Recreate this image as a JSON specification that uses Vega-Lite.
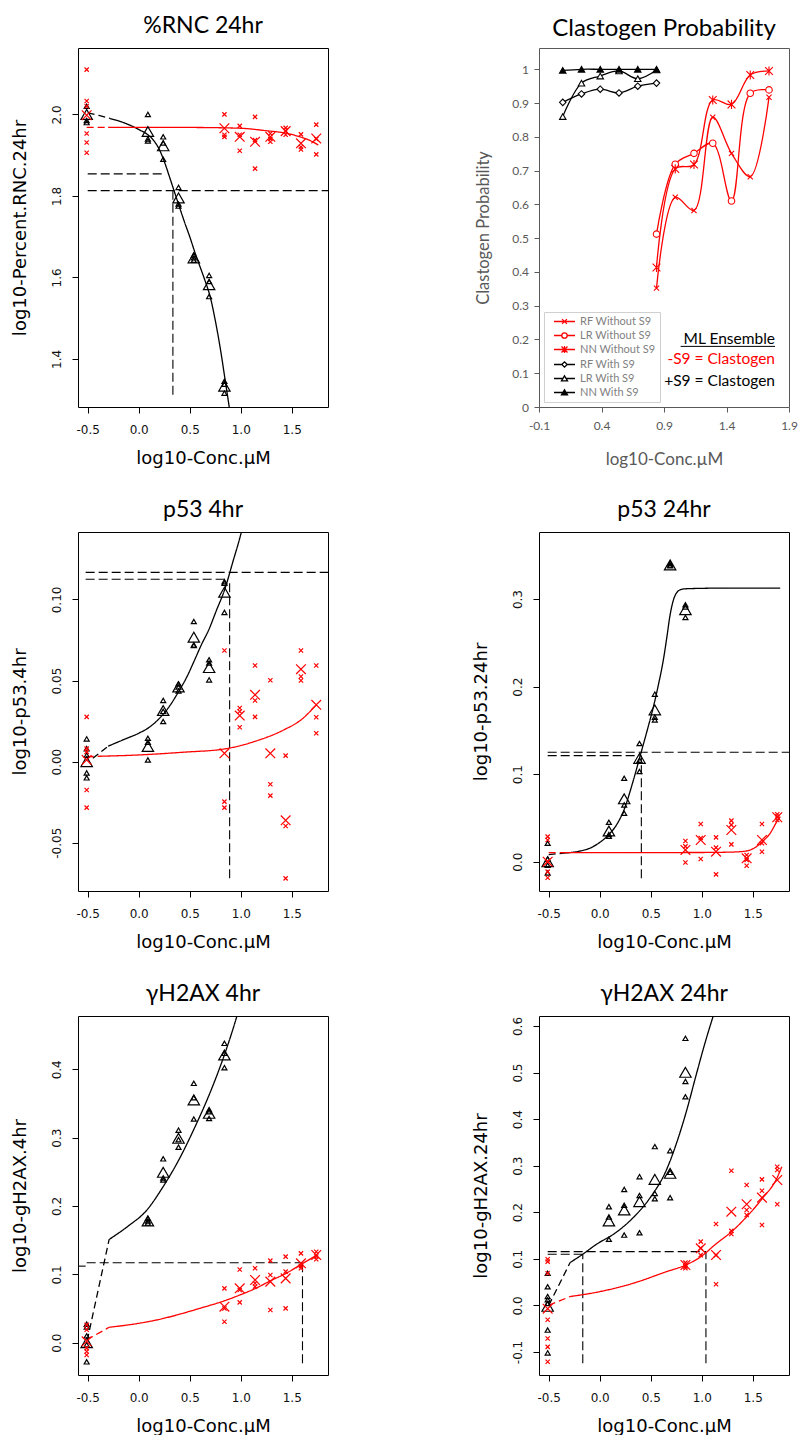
{
"$schema": "https://vega.github.io/schema/vega-lite/v6.json",
"padding": {"left": 10, "top": 14, "right": 5, "bottom": 2},
"config": {
 "view": {"stroke": "#000", "strokeWidth": 1},
 "axis": {"domain": false, "grid": false, "tickColor": "#000", "tickSize": 6, "labelFont": "DejaVu Sans", "labelFontSize": 12, "labelColor": "#111", "titleFont": "DejaVu Sans", "titleFontSize": 18, "titleFontWeight": "normal", "titleColor": "#000", "labelFlush": false, "labelOverlap": false, "labelBound": false},
 "axisX": {"labelBaseline": "alphabetic", "labelPadding": 20, "titleY": 56, "titleBaseline": "alphabetic"},
 "axisY": {"labelAngle": -90, "labelAlign": "center", "labelBaseline": "alphabetic", "labelPadding": 12, "titleX": -53, "titleBaseline": "alphabetic"},
 "title": {"font": "Lato", "fontSize": 23, "fontWeight": "normal", "color": "#000", "anchor": "middle", "baseline": "alphabetic", "offset": 10}
},
"datasets": {
 "rnc": [
  {"k":"rep","g":"S9","x":-0.51,"y":2.02},{"k":"rep","g":"S9","x":-0.51,"y":1.985},{"k":"rep","g":"S9","x":-0.51,"y":1.98},
  {"k":"rep","g":"S9","x":0.09,"y":2.0},{"k":"rep","g":"S9","x":0.09,"y":1.94},{"k":"rep","g":"S9","x":0.09,"y":1.935},
  {"k":"rep","g":"S9","x":0.24,"y":1.945},{"k":"rep","g":"S9","x":0.24,"y":1.93},{"k":"rep","g":"S9","x":0.24,"y":1.89},
  {"k":"rep","g":"S9","x":0.39,"y":1.821},{"k":"rep","g":"S9","x":0.39,"y":1.78},{"k":"rep","g":"S9","x":0.39,"y":1.775},
  {"k":"rep","g":"S9","x":0.54,"y":1.655},{"k":"rep","g":"S9","x":0.54,"y":1.648},{"k":"rep","g":"S9","x":0.54,"y":1.642},
  {"k":"rep","g":"S9","x":0.69,"y":1.605},{"k":"rep","g":"S9","x":0.69,"y":1.59},{"k":"rep","g":"S9","x":0.69,"y":1.553},
  {"k":"rep","g":"S9","x":0.84,"y":1.345},{"k":"rep","g":"S9","x":0.84,"y":1.338},{"k":"rep","g":"S9","x":0.84,"y":1.316},
  {"k":"mean","g":"S9","x":-0.51,"y":2.0},{"k":"mean","g":"S9","x":0.09,"y":1.958},{"k":"mean","g":"S9","x":0.24,"y":1.923},{"k":"mean","g":"S9","x":0.39,"y":1.795},{"k":"mean","g":"S9","x":0.54,"y":1.648},{"k":"mean","g":"S9","x":0.69,"y":1.582},{"k":"mean","g":"S9","x":0.84,"y":1.333},
  {"k":"rep","g":"noS9","x":-0.51,"y":2.11},{"k":"rep","g":"noS9","x":-0.51,"y":2.033},{"k":"rep","g":"noS9","x":-0.51,"y":2.02},{"k":"rep","g":"noS9","x":-0.51,"y":1.953},{"k":"rep","g":"noS9","x":-0.51,"y":1.931},{"k":"rep","g":"noS9","x":-0.51,"y":1.906},
  {"k":"rep","g":"noS9","x":0.84,"y":2.0},{"k":"rep","g":"noS9","x":0.84,"y":1.95},{"k":"rep","g":"noS9","x":0.84,"y":1.945},
  {"k":"rep","g":"noS9","x":0.99,"y":1.972},{"k":"rep","g":"noS9","x":0.99,"y":1.95},{"k":"rep","g":"noS9","x":0.99,"y":1.911},
  {"k":"rep","g":"noS9","x":1.14,"y":1.994},{"k":"rep","g":"noS9","x":1.14,"y":1.937},{"k":"rep","g":"noS9","x":1.14,"y":1.867},
  {"k":"rep","g":"noS9","x":1.29,"y":1.953},{"k":"rep","g":"noS9","x":1.29,"y":1.94},{"k":"rep","g":"noS9","x":1.29,"y":1.933},
  {"k":"rep","g":"noS9","x":1.44,"y":1.967},{"k":"rep","g":"noS9","x":1.44,"y":1.96},{"k":"rep","g":"noS9","x":1.44,"y":1.95},
  {"k":"rep","g":"noS9","x":1.59,"y":1.951},{"k":"rep","g":"noS9","x":1.59,"y":1.92},{"k":"rep","g":"noS9","x":1.59,"y":1.914},
  {"k":"rep","g":"noS9","x":1.74,"y":1.975},{"k":"rep","g":"noS9","x":1.74,"y":1.94},{"k":"rep","g":"noS9","x":1.74,"y":1.902},
  {"k":"mean","g":"noS9","x":-0.51,"y":1.998},{"k":"mean","g":"noS9","x":0.84,"y":1.966},{"k":"mean","g":"noS9","x":0.99,"y":1.945},{"k":"mean","g":"noS9","x":1.14,"y":1.933},{"k":"mean","g":"noS9","x":1.29,"y":1.945},{"k":"mean","g":"noS9","x":1.44,"y":1.959},{"k":"mean","g":"noS9","x":1.59,"y":1.929},{"k":"mean","g":"noS9","x":1.74,"y":1.941},
  {"k":"curve","g":"S9","ls":"extrap","seg":"a","x":-0.5,"y":2.004},{"k":"curve","g":"S9","ls":"extrap","seg":"a","x":-0.38,"y":1.997},{"k":"curve","g":"S9","ls":"extrap","seg":"a","x":-0.28,"y":1.99},
  {"k":"curve","g":"S9","ls":"fit","seg":"b","x":-0.28,"y":1.99},{"k":"curve","g":"S9","ls":"fit","seg":"b","x":-0.15,"y":1.98},{"k":"curve","g":"S9","ls":"fit","seg":"b","x":0.0,"y":1.963},{"k":"curve","g":"S9","ls":"fit","seg":"b","x":0.1,"y":1.948},{"k":"curve","g":"S9","ls":"fit","seg":"b","x":0.15,"y":1.935},{"k":"curve","g":"S9","ls":"fit","seg":"b","x":0.2,"y":1.915},{"k":"curve","g":"S9","ls":"fit","seg":"b","x":0.25,"y":1.885},{"k":"curve","g":"S9","ls":"fit","seg":"b","x":0.3,"y":1.848},{"k":"curve","g":"S9","ls":"fit","seg":"b","x":0.35,"y":1.81},{"k":"curve","g":"S9","ls":"fit","seg":"b","x":0.4,"y":1.772},{"k":"curve","g":"S9","ls":"fit","seg":"b","x":0.45,"y":1.735},{"k":"curve","g":"S9","ls":"fit","seg":"b","x":0.5,"y":1.7},{"k":"curve","g":"S9","ls":"fit","seg":"b","x":0.55,"y":1.662},{"k":"curve","g":"S9","ls":"fit","seg":"b","x":0.6,"y":1.627},{"k":"curve","g":"S9","ls":"fit","seg":"b","x":0.65,"y":1.592},{"k":"curve","g":"S9","ls":"fit","seg":"b","x":0.7,"y":1.553},{"k":"curve","g":"S9","ls":"fit","seg":"b","x":0.75,"y":1.495},{"k":"curve","g":"S9","ls":"fit","seg":"b","x":0.8,"y":1.425},{"k":"curve","g":"S9","ls":"fit","seg":"b","x":0.84,"y":1.36},{"k":"curve","g":"S9","ls":"fit","seg":"b","x":0.9,"y":1.26},
  {"k":"curve","g":"noS9","ls":"extrap","seg":"c","x":-0.51,"y":1.968},{"k":"curve","g":"noS9","ls":"extrap","seg":"c","x":-0.3,"y":1.968},
  {"k":"curve","g":"noS9","ls":"fit","seg":"d","x":-0.3,"y":1.968},{"k":"curve","g":"noS9","ls":"fit","seg":"d","x":0.5,"y":1.968},{"k":"curve","g":"noS9","ls":"fit","seg":"d","x":1.0,"y":1.966},{"k":"curve","g":"noS9","ls":"fit","seg":"d","x":1.25,"y":1.96},{"k":"curve","g":"noS9","ls":"fit","seg":"d","x":1.42,"y":1.955},{"k":"curve","g":"noS9","ls":"fit","seg":"d","x":1.58,"y":1.945},{"k":"curve","g":"noS9","ls":"fit","seg":"d","x":1.67,"y":1.937},{"k":"curve","g":"noS9","ls":"fit","seg":"d","x":1.76,"y":1.925},
  {"k":"ref","x":-0.5,"x2":0.26,"y":1.854,"y2":1.854},{"k":"ref","x":-0.5,"x2":1.9,"y":1.813,"y2":1.813},{"k":"ref","x":0.335,"x2":0.335,"y":1.312,"y2":1.813}
 ],
 "p53a": [
  {"k":"rep","g":"S9","x":-0.51,"y":0.014},{"k":"rep","g":"S9","x":-0.51,"y":0.008},{"k":"rep","g":"S9","x":-0.51,"y":0.004},{"k":"rep","g":"S9","x":-0.51,"y":-0.007},{"k":"rep","g":"S9","x":-0.51,"y":-0.01},
  {"k":"rep","g":"S9","x":0.09,"y":0.0144},{"k":"rep","g":"S9","x":0.09,"y":0.012},{"k":"rep","g":"S9","x":0.09,"y":0.001},
  {"k":"rep","g":"S9","x":0.24,"y":0.0377},{"k":"rep","g":"S9","x":0.24,"y":0.031},{"k":"rep","g":"S9","x":0.24,"y":0.0247},
  {"k":"rep","g":"S9","x":0.39,"y":0.048},{"k":"rep","g":"S9","x":0.39,"y":0.046},{"k":"rep","g":"S9","x":0.39,"y":0.0436},
  {"k":"rep","g":"S9","x":0.54,"y":0.0864},{"k":"rep","g":"S9","x":0.54,"y":0.072},{"k":"rep","g":"S9","x":0.54,"y":0.0716},
  {"k":"rep","g":"S9","x":0.69,"y":0.0628},{"k":"rep","g":"S9","x":0.69,"y":0.0608},{"k":"rep","g":"S9","x":0.69,"y":0.0504},
  {"k":"rep","g":"S9","x":0.84,"y":0.111},{"k":"rep","g":"S9","x":0.84,"y":0.11},{"k":"rep","g":"S9","x":0.84,"y":0.092},
  {"k":"mean","g":"S9","x":-0.51,"y":0.0},{"k":"mean","g":"S9","x":0.09,"y":0.0093},{"k":"mean","g":"S9","x":0.24,"y":0.0315},{"k":"mean","g":"S9","x":0.39,"y":0.046},{"k":"mean","g":"S9","x":0.54,"y":0.0767},{"k":"mean","g":"S9","x":0.69,"y":0.058},{"k":"mean","g":"S9","x":0.84,"y":0.1045},
  {"k":"rep","g":"noS9","x":-0.51,"y":0.0276},{"k":"rep","g":"noS9","x":-0.51,"y":0.008},{"k":"rep","g":"noS9","x":-0.51,"y":0.006},{"k":"rep","g":"noS9","x":-0.51,"y":-0.0175},{"k":"rep","g":"noS9","x":-0.51,"y":-0.0284},
  {"k":"rep","g":"noS9","x":0.84,"y":0.0685},{"k":"rep","g":"noS9","x":0.84,"y":-0.0247},{"k":"rep","g":"noS9","x":0.84,"y":-0.0284},
  {"k":"rep","g":"noS9","x":0.99,"y":0.0331},{"k":"rep","g":"noS9","x":0.99,"y":0.0309},{"k":"rep","g":"noS9","x":0.99,"y":0.0212},
  {"k":"rep","g":"noS9","x":1.14,"y":0.0593},{"k":"rep","g":"noS9","x":1.14,"y":0.0377},{"k":"rep","g":"noS9","x":1.14,"y":0.0276},
  {"k":"rep","g":"noS9","x":1.29,"y":0.0502},{"k":"rep","g":"noS9","x":1.29,"y":-0.014},{"k":"rep","g":"noS9","x":1.29,"y":-0.021},
  {"k":"rep","g":"noS9","x":1.44,"y":0.0037},{"k":"rep","g":"noS9","x":1.44,"y":-0.0397},{"k":"rep","g":"noS9","x":1.44,"y":-0.072},
  {"k":"rep","g":"noS9","x":1.59,"y":0.0685},{"k":"rep","g":"noS9","x":1.59,"y":0.0525},{"k":"rep","g":"noS9","x":1.59,"y":0.05},
  {"k":"rep","g":"noS9","x":1.74,"y":0.0593},{"k":"rep","g":"noS9","x":1.74,"y":0.0274},{"k":"rep","g":"noS9","x":1.74,"y":0.0175},
  {"k":"mean","g":"noS9","x":-0.51,"y":0.001},{"k":"mean","g":"noS9","x":0.84,"y":0.0051},{"k":"mean","g":"noS9","x":0.99,"y":0.0284},{"k":"mean","g":"noS9","x":1.14,"y":0.0412},{"k":"mean","g":"noS9","x":1.29,"y":0.0051},{"k":"mean","g":"noS9","x":1.44,"y":-0.0362},{"k":"mean","g":"noS9","x":1.59,"y":0.057},{"k":"mean","g":"noS9","x":1.74,"y":0.035},
  {"k":"curve","g":"S9","ls":"extrap","seg":"a","x":-0.45,"y":0.002},{"k":"curve","g":"S9","ls":"extrap","seg":"a","x":-0.3,"y":0.0095},
  {"k":"curve","g":"S9","ls":"fit","seg":"b","x":-0.3,"y":0.0095},{"k":"curve","g":"S9","ls":"fit","seg":"b","x":-0.15,"y":0.0135},{"k":"curve","g":"S9","ls":"fit","seg":"b","x":0.0,"y":0.0175},{"k":"curve","g":"S9","ls":"fit","seg":"b","x":0.1,"y":0.021},{"k":"curve","g":"S9","ls":"fit","seg":"b","x":0.2,"y":0.0265},{"k":"curve","g":"S9","ls":"fit","seg":"b","x":0.3,"y":0.034},{"k":"curve","g":"S9","ls":"fit","seg":"b","x":0.394,"y":0.0435},{"k":"curve","g":"S9","ls":"fit","seg":"b","x":0.47,"y":0.052},{"k":"curve","g":"S9","ls":"fit","seg":"b","x":0.541,"y":0.0617},{"k":"curve","g":"S9","ls":"fit","seg":"b","x":0.61,"y":0.0715},{"k":"curve","g":"S9","ls":"fit","seg":"b","x":0.688,"y":0.0815},{"k":"curve","g":"S9","ls":"fit","seg":"b","x":0.76,"y":0.093},{"k":"curve","g":"S9","ls":"fit","seg":"b","x":0.842,"y":0.106},{"k":"curve","g":"S9","ls":"fit","seg":"b","x":0.924,"y":0.1235},{"k":"curve","g":"S9","ls":"fit","seg":"b","x":1.006,"y":0.1416},{"k":"curve","g":"S9","ls":"fit","seg":"b","x":1.03,"y":0.148},
  {"k":"curve","g":"noS9","ls":"extrap","seg":"c","x":-0.51,"y":0.003},{"k":"curve","g":"noS9","ls":"extrap","seg":"c","x":-0.38,"y":0.0033},
  {"k":"curve","g":"noS9","ls":"fit","seg":"d","x":-0.38,"y":0.0033},{"k":"curve","g":"noS9","ls":"fit","seg":"d","x":0.0,"y":0.0041},{"k":"curve","g":"noS9","ls":"fit","seg":"d","x":0.44,"y":0.0058},{"k":"curve","g":"noS9","ls":"fit","seg":"d","x":0.84,"y":0.0078},{"k":"curve","g":"noS9","ls":"fit","seg":"d","x":1.13,"y":0.0123},{"k":"curve","g":"noS9","ls":"fit","seg":"d","x":1.42,"y":0.0195},{"k":"curve","g":"noS9","ls":"fit","seg":"d","x":1.59,"y":0.0257},{"k":"curve","g":"noS9","ls":"fit","seg":"d","x":1.74,"y":0.035},
  {"k":"ref","x":-0.52,"x2":1.9,"y":0.1167,"y2":0.1167},{"k":"ref","x":-0.52,"x2":0.868,"y":0.1125,"y2":0.1125},{"k":"ref","x":0.891,"x2":0.891,"y":-0.072,"y2":0.1125}
 ],
 "p53b": [
  {"k":"rep","g":"S9","x":-0.51,"y":0.021},{"k":"rep","g":"S9","x":-0.51,"y":0.003},{"k":"rep","g":"S9","x":-0.51,"y":-0.004},{"k":"rep","g":"S9","x":-0.51,"y":-0.013},
  {"k":"rep","g":"S9","x":0.09,"y":0.045},{"k":"rep","g":"S9","x":0.09,"y":0.031},{"k":"rep","g":"S9","x":0.09,"y":0.029},
  {"k":"rep","g":"S9","x":0.24,"y":0.0953},{"k":"rep","g":"S9","x":0.24,"y":0.0648},{"k":"rep","g":"S9","x":0.24,"y":0.0553},
  {"k":"rep","g":"S9","x":0.39,"y":0.135},{"k":"rep","g":"S9","x":0.39,"y":0.116},{"k":"rep","g":"S9","x":0.39,"y":0.103},
  {"k":"rep","g":"S9","x":0.54,"y":0.1914},{"k":"rep","g":"S9","x":0.54,"y":0.165},{"k":"rep","g":"S9","x":0.54,"y":0.162},
  {"k":"rep","g":"S9","x":0.69,"y":0.341},{"k":"rep","g":"S9","x":0.69,"y":0.339},{"k":"rep","g":"S9","x":0.69,"y":0.338},
  {"k":"rep","g":"S9","x":0.84,"y":0.2935},{"k":"rep","g":"S9","x":0.84,"y":0.291},{"k":"rep","g":"S9","x":0.84,"y":0.279},
  {"k":"mean","g":"S9","x":-0.51,"y":0.0},{"k":"mean","g":"S9","x":0.09,"y":0.035},{"k":"mean","g":"S9","x":0.24,"y":0.0718},{"k":"mean","g":"S9","x":0.39,"y":0.118},{"k":"mean","g":"S9","x":0.54,"y":0.1734},{"k":"mean","g":"S9","x":0.69,"y":0.339},{"k":"mean","g":"S9","x":0.84,"y":0.2878},
  {"k":"rep","g":"noS9","x":-0.51,"y":0.0286},{"k":"rep","g":"noS9","x":-0.51,"y":0.0248},{"k":"rep","g":"noS9","x":-0.51,"y":0.0},{"k":"rep","g":"noS9","x":-0.51,"y":-0.0114},{"k":"rep","g":"noS9","x":-0.51,"y":-0.0183},
  {"k":"rep","g":"noS9","x":0.84,"y":0.0236},{"k":"rep","g":"noS9","x":0.84,"y":0.0175},{"k":"rep","g":"noS9","x":0.84,"y":-0.001},
  {"k":"rep","g":"noS9","x":0.99,"y":0.043},{"k":"rep","g":"noS9","x":0.99,"y":0.027},{"k":"rep","g":"noS9","x":0.99,"y":0.003},
  {"k":"rep","g":"noS9","x":1.14,"y":0.0278},{"k":"rep","g":"noS9","x":1.14,"y":0.016},{"k":"rep","g":"noS9","x":1.14,"y":-0.0145},
  {"k":"rep","g":"noS9","x":1.29,"y":0.0469},{"k":"rep","g":"noS9","x":1.29,"y":0.042},{"k":"rep","g":"noS9","x":1.29,"y":0.0198},
  {"k":"rep","g":"noS9","x":1.44,"y":0.0076},{"k":"rep","g":"noS9","x":1.44,"y":0.002},{"k":"rep","g":"noS9","x":1.44,"y":-0.0046},
  {"k":"rep","g":"noS9","x":1.59,"y":0.0431},{"k":"rep","g":"noS9","x":1.59,"y":0.021},{"k":"rep","g":"noS9","x":1.59,"y":0.0114},
  {"k":"rep","g":"noS9","x":1.74,"y":0.0541},{"k":"rep","g":"noS9","x":1.74,"y":0.0515},{"k":"rep","g":"noS9","x":1.74,"y":0.0476},
  {"k":"mean","g":"noS9","x":-0.51,"y":0.0},{"k":"mean","g":"noS9","x":0.84,"y":0.0134},{"k":"mean","g":"noS9","x":0.99,"y":0.0248},{"k":"mean","g":"noS9","x":1.14,"y":0.0114},{"k":"mean","g":"noS9","x":1.29,"y":0.0362},{"k":"mean","g":"noS9","x":1.44,"y":0.0038},{"k":"mean","g":"noS9","x":1.59,"y":0.0248},{"k":"mean","g":"noS9","x":1.74,"y":0.0507},
  {"k":"curve","g":"S9","ls":"extrap","seg":"a","x":-0.5,"y":0.008},{"k":"curve","g":"S9","ls":"extrap","seg":"a","x":-0.33,"y":0.01},
  {"k":"curve","g":"S9","ls":"fit","seg":"b","x":-0.33,"y":0.01},{"k":"curve","g":"S9","ls":"fit","seg":"b","x":-0.2,"y":0.012},{"k":"curve","g":"S9","ls":"fit","seg":"b","x":-0.067,"y":0.017},{"k":"curve","g":"S9","ls":"fit","seg":"b","x":0.0,"y":0.022},{"k":"curve","g":"S9","ls":"fit","seg":"b","x":0.09,"y":0.031},{"k":"curve","g":"S9","ls":"fit","seg":"b","x":0.17,"y":0.043},{"k":"curve","g":"S9","ls":"fit","seg":"b","x":0.244,"y":0.061},{"k":"curve","g":"S9","ls":"fit","seg":"b","x":0.326,"y":0.0915},{"k":"curve","g":"S9","ls":"fit","seg":"b","x":0.408,"y":0.1258},{"k":"curve","g":"S9","ls":"fit","seg":"b","x":0.47,"y":0.152},{"k":"curve","g":"S9","ls":"fit","seg":"b","x":0.523,"y":0.1754},{"k":"curve","g":"S9","ls":"fit","seg":"b","x":0.575,"y":0.202},{"k":"curve","g":"S9","ls":"fit","seg":"b","x":0.621,"y":0.2287},{"k":"curve","g":"S9","ls":"fit","seg":"b","x":0.66,"y":0.258},{"k":"curve","g":"S9","ls":"fit","seg":"b","x":0.687,"y":0.28},{"k":"curve","g":"S9","ls":"fit","seg":"b","x":0.72,"y":0.298},{"k":"curve","g":"S9","ls":"fit","seg":"b","x":0.752,"y":0.3069},{"k":"curve","g":"S9","ls":"fit","seg":"b","x":0.8,"y":0.311},{"k":"curve","g":"S9","ls":"fit","seg":"b","x":0.851,"y":0.3118},{"k":"curve","g":"S9","ls":"fit","seg":"b","x":1.2,"y":0.3125},{"k":"curve","g":"S9","ls":"fit","seg":"b","x":1.769,"y":0.3126},
  {"k":"curve","g":"noS9","ls":"extrap","seg":"c","x":-0.5,"y":0.0103},{"k":"curve","g":"noS9","ls":"extrap","seg":"c","x":-0.33,"y":0.0103},
  {"k":"curve","g":"noS9","ls":"fit","seg":"d","x":-0.33,"y":0.0103},{"k":"curve","g":"noS9","ls":"fit","seg":"d","x":1.0,"y":0.0105},{"k":"curve","g":"noS9","ls":"fit","seg":"d","x":1.3,"y":0.011},{"k":"curve","g":"noS9","ls":"fit","seg":"d","x":1.44,"y":0.0122},{"k":"curve","g":"noS9","ls":"fit","seg":"d","x":1.52,"y":0.016},{"k":"curve","g":"noS9","ls":"fit","seg":"d","x":1.595,"y":0.0229},{"k":"curve","g":"noS9","ls":"fit","seg":"d","x":1.67,"y":0.0324},{"k":"curve","g":"noS9","ls":"fit","seg":"d","x":1.736,"y":0.0457},{"k":"curve","g":"noS9","ls":"fit","seg":"d","x":1.77,"y":0.0515},
  {"k":"ref","x":-0.51,"x2":1.9,"y":0.125,"y2":0.125},{"k":"ref","x":-0.51,"x2":0.39,"y":0.1212,"y2":0.1212},{"k":"ref","x":0.408,"x2":0.408,"y":-0.019,"y2":0.1212}
 ],
 "gha": [
  {"k":"rep","g":"S9","x":-0.51,"y":0.027},{"k":"rep","g":"S9","x":-0.51,"y":0.023},{"k":"rep","g":"S9","x":-0.51,"y":0.01},{"k":"rep","g":"S9","x":-0.51,"y":-0.003},{"k":"rep","g":"S9","x":-0.51,"y":-0.028},
  {"k":"rep","g":"S9","x":0.09,"y":0.182},{"k":"rep","g":"S9","x":0.09,"y":0.178},{"k":"rep","g":"S9","x":0.09,"y":0.175},
  {"k":"rep","g":"S9","x":0.24,"y":0.269},{"k":"rep","g":"S9","x":0.24,"y":0.241},{"k":"rep","g":"S9","x":0.24,"y":0.238},
  {"k":"rep","g":"S9","x":0.39,"y":0.311},{"k":"rep","g":"S9","x":0.39,"y":0.297},{"k":"rep","g":"S9","x":0.39,"y":0.286},
  {"k":"rep","g":"S9","x":0.54,"y":0.3795},{"k":"rep","g":"S9","x":0.54,"y":0.3585},{"k":"rep","g":"S9","x":0.54,"y":0.3273},
  {"k":"rep","g":"S9","x":0.69,"y":0.341},{"k":"rep","g":"S9","x":0.69,"y":0.338},{"k":"rep","g":"S9","x":0.69,"y":0.328},
  {"k":"rep","g":"S9","x":0.84,"y":0.438},{"k":"rep","g":"S9","x":0.84,"y":0.4234},{"k":"rep","g":"S9","x":0.84,"y":0.4024},
  {"k":"mean","g":"S9","x":-0.51,"y":0.0},{"k":"mean","g":"S9","x":0.09,"y":0.178},{"k":"mean","g":"S9","x":0.24,"y":0.2493},{"k":"mean","g":"S9","x":0.39,"y":0.299},{"k":"mean","g":"S9","x":0.54,"y":0.3551},{"k":"mean","g":"S9","x":0.69,"y":0.3356},{"k":"mean","g":"S9","x":0.84,"y":0.421},
  {"k":"rep","g":"noS9","x":-0.51,"y":0.026},{"k":"rep","g":"noS9","x":-0.51,"y":0.019},{"k":"rep","g":"noS9","x":-0.51,"y":-0.008},{"k":"rep","g":"noS9","x":-0.51,"y":-0.013},{"k":"rep","g":"noS9","x":-0.51,"y":-0.018},
  {"k":"rep","g":"noS9","x":0.84,"y":0.0795},{"k":"rep","g":"noS9","x":0.84,"y":0.05},{"k":"rep","g":"noS9","x":0.84,"y":0.0307},
  {"k":"rep","g":"noS9","x":0.99,"y":0.107},{"k":"rep","g":"noS9","x":0.99,"y":0.077},{"k":"rep","g":"noS9","x":0.99,"y":0.059},
  {"k":"rep","g":"noS9","x":1.14,"y":0.109},{"k":"rep","g":"noS9","x":1.14,"y":0.087},{"k":"rep","g":"noS9","x":1.14,"y":0.082},
  {"k":"rep","g":"noS9","x":1.29,"y":0.12},{"k":"rep","g":"noS9","x":1.29,"y":0.099},{"k":"rep","g":"noS9","x":1.29,"y":0.0478},
  {"k":"rep","g":"noS9","x":1.44,"y":0.1259},{"k":"rep","g":"noS9","x":1.44,"y":0.104},{"k":"rep","g":"noS9","x":1.44,"y":0.0502},
  {"k":"rep","g":"noS9","x":1.59,"y":0.1307},{"k":"rep","g":"noS9","x":1.59,"y":0.112},{"k":"rep","g":"noS9","x":1.59,"y":0.109},
  {"k":"rep","g":"noS9","x":1.74,"y":0.133},{"k":"rep","g":"noS9","x":1.74,"y":0.126},{"k":"rep","g":"noS9","x":1.74,"y":0.122},
  {"k":"mean","g":"noS9","x":-0.51,"y":0.002},{"k":"mean","g":"noS9","x":0.84,"y":0.0527},{"k":"mean","g":"noS9","x":0.99,"y":0.0795},{"k":"mean","g":"noS9","x":1.14,"y":0.0917},{"k":"mean","g":"noS9","x":1.29,"y":0.0893},{"k":"mean","g":"noS9","x":1.44,"y":0.0941},{"k":"mean","g":"noS9","x":1.59,"y":0.1161},{"k":"mean","g":"noS9","x":1.74,"y":0.1283},
  {"k":"curve","g":"S9","ls":"extrap","seg":"a","x":-0.505,"y":0.003},{"k":"curve","g":"S9","ls":"extrap","seg":"a","x":-0.29,"y":0.151},
  {"k":"curve","g":"S9","ls":"fit","seg":"b","x":-0.29,"y":0.151},{"k":"curve","g":"S9","ls":"fit","seg":"b","x":-0.1,"y":0.171},{"k":"curve","g":"S9","ls":"fit","seg":"b","x":0.074,"y":0.193},{"k":"curve","g":"S9","ls":"fit","seg":"b","x":0.238,"y":0.228},{"k":"curve","g":"S9","ls":"fit","seg":"b","x":0.395,"y":0.268},{"k":"curve","g":"S9","ls":"fit","seg":"b","x":0.543,"y":0.313},{"k":"curve","g":"S9","ls":"fit","seg":"b","x":0.697,"y":0.365},{"k":"curve","g":"S9","ls":"fit","seg":"b","x":0.844,"y":0.423},{"k":"curve","g":"S9","ls":"fit","seg":"b","x":0.926,"y":0.46},{"k":"curve","g":"S9","ls":"fit","seg":"b","x":1.0,"y":0.497},
  {"k":"curve","g":"noS9","ls":"extrap","seg":"c","x":-0.51,"y":0.004},{"k":"curve","g":"noS9","ls":"extrap","seg":"c","x":-0.29,"y":0.0225},
  {"k":"curve","g":"noS9","ls":"fit","seg":"d","x":-0.29,"y":0.0225},{"k":"curve","g":"noS9","ls":"fit","seg":"d","x":0.0,"y":0.0283},{"k":"curve","g":"noS9","ls":"fit","seg":"d","x":0.185,"y":0.0335},{"k":"curve","g":"noS9","ls":"fit","seg":"d","x":0.336,"y":0.039},{"k":"curve","g":"noS9","ls":"fit","seg":"d","x":0.598,"y":0.0502},{"k":"curve","g":"noS9","ls":"fit","seg":"d","x":0.844,"y":0.0615},{"k":"curve","g":"noS9","ls":"fit","seg":"d","x":0.992,"y":0.0698},{"k":"curve","g":"noS9","ls":"fit","seg":"d","x":1.146,"y":0.0795},{"k":"curve","g":"noS9","ls":"fit","seg":"d","x":1.293,"y":0.0907},{"k":"curve","g":"noS9","ls":"fit","seg":"d","x":1.444,"y":0.1015},{"k":"curve","g":"noS9","ls":"fit","seg":"d","x":1.598,"y":0.1151},{"k":"curve","g":"noS9","ls":"fit","seg":"d","x":1.746,"y":0.1283},
  {"k":"ref","x":-0.51,"x2":1.605,"y":0.117,"y2":0.117},{"k":"ref","x":-0.6,"x2":-0.52,"y":0.112,"y2":0.112},{"k":"ref","x":1.605,"x2":1.605,"y":-0.03,"y2":0.117}
 ],
 "ghb": [
  {"k":"rep","g":"S9","x":-0.51,"y":0.069},{"k":"rep","g":"S9","x":-0.51,"y":0.04},{"k":"rep","g":"S9","x":-0.51,"y":0.019},{"k":"rep","g":"S9","x":-0.51,"y":0.012},{"k":"rep","g":"S9","x":-0.51,"y":0.004},{"k":"rep","g":"S9","x":-0.51,"y":-0.053},{"k":"rep","g":"S9","x":-0.51,"y":-0.102},
  {"k":"rep","g":"S9","x":0.09,"y":0.212},{"k":"rep","g":"S9","x":0.09,"y":0.19},{"k":"rep","g":"S9","x":0.09,"y":0.142},
  {"k":"rep","g":"S9","x":0.24,"y":0.249},{"k":"rep","g":"S9","x":0.24,"y":0.215},{"k":"rep","g":"S9","x":0.24,"y":0.151},
  {"k":"rep","g":"S9","x":0.39,"y":0.2765},{"k":"rep","g":"S9","x":0.39,"y":0.236},{"k":"rep","g":"S9","x":0.39,"y":0.156},
  {"k":"rep","g":"S9","x":0.54,"y":0.341},{"k":"rep","g":"S9","x":0.54,"y":0.2405},{"k":"rep","g":"S9","x":0.54,"y":0.2291},
  {"k":"rep","g":"S9","x":0.69,"y":0.3323},{"k":"rep","g":"S9","x":0.69,"y":0.2857},{"k":"rep","g":"S9","x":0.69,"y":0.2313},
  {"k":"rep","g":"S9","x":0.84,"y":0.5735},{"k":"rep","g":"S9","x":0.84,"y":0.481},{"k":"rep","g":"S9","x":0.84,"y":0.448},
  {"k":"mean","g":"S9","x":-0.51,"y":-0.002},{"k":"mean","g":"S9","x":0.09,"y":0.1813},{"k":"mean","g":"S9","x":0.24,"y":0.205},{"k":"mean","g":"S9","x":0.39,"y":0.2229},{"k":"mean","g":"S9","x":0.54,"y":0.2707},{"k":"mean","g":"S9","x":0.69,"y":0.2836},{"k":"mean","g":"S9","x":0.84,"y":0.5006},
  {"k":"rep","g":"noS9","x":-0.51,"y":0.099},{"k":"rep","g":"noS9","x":-0.51,"y":0.094},{"k":"rep","g":"noS9","x":-0.51,"y":0.069},{"k":"rep","g":"noS9","x":-0.51,"y":-0.031},{"k":"rep","g":"noS9","x":-0.51,"y":-0.071},{"k":"rep","g":"noS9","x":-0.51,"y":-0.089},{"k":"rep","g":"noS9","x":-0.51,"y":-0.121},
  {"k":"rep","g":"noS9","x":0.84,"y":0.0918},{"k":"rep","g":"noS9","x":0.84,"y":0.0832},{"k":"rep","g":"noS9","x":0.84,"y":0.0796},
  {"k":"rep","g":"noS9","x":0.99,"y":0.137},{"k":"rep","g":"noS9","x":0.99,"y":0.123},{"k":"rep","g":"noS9","x":0.99,"y":0.108},
  {"k":"rep","g":"noS9","x":1.14,"y":0.1748},{"k":"rep","g":"noS9","x":1.14,"y":0.108},{"k":"rep","g":"noS9","x":1.14,"y":0.0453},
  {"k":"rep","g":"noS9","x":1.29,"y":0.2892},{"k":"rep","g":"noS9","x":1.29,"y":0.16},{"k":"rep","g":"noS9","x":1.29,"y":0.1533},
  {"k":"rep","g":"noS9","x":1.44,"y":0.2586},{"k":"rep","g":"noS9","x":1.44,"y":0.205},{"k":"rep","g":"noS9","x":1.44,"y":0.194},
  {"k":"rep","g":"noS9","x":1.59,"y":0.2707},{"k":"rep","g":"noS9","x":1.59,"y":0.2463},{"k":"rep","g":"noS9","x":1.59,"y":0.1726},
  {"k":"rep","g":"noS9","x":1.74,"y":0.2979},{"k":"rep","g":"noS9","x":1.74,"y":0.2907},{"k":"rep","g":"noS9","x":1.74,"y":0.2171},
  {"k":"mean","g":"noS9","x":-0.51,"y":-0.007},{"k":"mean","g":"noS9","x":0.84,"y":0.0868},{"k":"mean","g":"noS9","x":0.99,"y":0.1225},{"k":"mean","g":"noS9","x":1.14,"y":0.1083},{"k":"mean","g":"noS9","x":1.29,"y":0.2013},{"k":"mean","g":"noS9","x":1.44,"y":0.2172},{"k":"mean","g":"noS9","x":1.59,"y":0.2314},{"k":"mean","g":"noS9","x":1.74,"y":0.2693},
  {"k":"curve","g":"S9","ls":"extrap","seg":"a","x":-0.5,"y":0.0},{"k":"curve","g":"S9","ls":"extrap","seg":"a","x":-0.29,"y":0.092},
  {"k":"curve","g":"S9","ls":"fit","seg":"b","x":-0.29,"y":0.092},{"k":"curve","g":"S9","ls":"fit","seg":"b","x":-0.166,"y":0.11},{"k":"curve","g":"S9","ls":"fit","seg":"b","x":-0.04,"y":0.13},{"k":"curve","g":"S9","ls":"fit","seg":"b","x":0.162,"y":0.157},{"k":"curve","g":"S9","ls":"fit","seg":"b","x":0.326,"y":0.188},{"k":"curve","g":"S9","ls":"fit","seg":"b","x":0.49,"y":0.23},{"k":"curve","g":"S9","ls":"fit","seg":"b","x":0.654,"y":0.291},{"k":"curve","g":"S9","ls":"fit","seg":"b","x":0.752,"y":0.348},{"k":"curve","g":"S9","ls":"fit","seg":"b","x":0.844,"y":0.4125},{"k":"curve","g":"S9","ls":"fit","seg":"b","x":0.949,"y":0.498},{"k":"curve","g":"S9","ls":"fit","seg":"b","x":1.031,"y":0.563},{"k":"curve","g":"S9","ls":"fit","seg":"b","x":1.113,"y":0.622},
  {"k":"curve","g":"noS9","ls":"extrap","seg":"c","x":-0.5,"y":0.0},{"k":"curve","g":"noS9","ls":"extrap","seg":"c","x":-0.29,"y":0.019},
  {"k":"curve","g":"noS9","ls":"fit","seg":"d","x":-0.29,"y":0.019},{"k":"curve","g":"noS9","ls":"fit","seg":"d","x":0.0,"y":0.0295},{"k":"curve","g":"noS9","ls":"fit","seg":"d","x":0.326,"y":0.0474},{"k":"curve","g":"noS9","ls":"fit","seg":"d","x":0.654,"y":0.0724},{"k":"curve","g":"noS9","ls":"fit","seg":"d","x":0.844,"y":0.0868},{"k":"curve","g":"noS9","ls":"fit","seg":"d","x":0.992,"y":0.1047},{"k":"curve","g":"noS9","ls":"fit","seg":"d","x":1.139,"y":0.132},{"k":"curve","g":"noS9","ls":"fit","seg":"d","x":1.293,"y":0.1584},{"k":"curve","g":"noS9","ls":"fit","seg":"d","x":1.441,"y":0.1906},{"k":"curve","g":"noS9","ls":"fit","seg":"d","x":1.595,"y":0.23},{"k":"curve","g":"noS9","ls":"fit","seg":"d","x":1.736,"y":0.273},{"k":"curve","g":"noS9","ls":"fit","seg":"d","x":1.785,"y":0.298},
  {"k":"ref","x":-0.51,"x2":1.041,"y":0.1154,"y2":0.1154},{"k":"ref","x":-0.51,"x2":-0.166,"y":0.1098,"y2":0.1098},{"k":"ref","x":-0.166,"x2":-0.166,"y":-0.124,"y2":0.1098},{"k":"ref","x":1.041,"x2":1.041,"y":-0.124,"y2":0.1154}
 ],
 "clast": [
  {"series":"RF Without S9","x":0.84,"p":0.352},{"series":"RF Without S9","x":0.99,"p":0.621},{"series":"RF Without S9","x":1.14,"p":0.582},{"series":"RF Without S9","x":1.29,"p":0.858},{"series":"RF Without S9","x":1.44,"p":0.751},{"series":"RF Without S9","x":1.59,"p":0.682},{"series":"RF Without S9","x":1.74,"p":0.917},
  {"series":"LR Without S9","x":0.84,"p":0.512},{"series":"LR Without S9","x":0.99,"p":0.719},{"series":"LR Without S9","x":1.14,"p":0.751},{"series":"LR Without S9","x":1.29,"p":0.781},{"series":"LR Without S9","x":1.44,"p":0.61},{"series":"LR Without S9","x":1.59,"p":0.929},{"series":"LR Without S9","x":1.74,"p":0.939},
  {"series":"NN Without S9","x":0.84,"p":0.413},{"series":"NN Without S9","x":0.99,"p":0.705},{"series":"NN Without S9","x":1.14,"p":0.718},{"series":"NN Without S9","x":1.29,"p":0.909},{"series":"NN Without S9","x":1.44,"p":0.896},{"series":"NN Without S9","x":1.59,"p":0.983},{"series":"NN Without S9","x":1.74,"p":0.995},
  {"series":"RF With S9","x":0.09,"p":0.902},{"series":"RF With S9","x":0.24,"p":0.927},{"series":"RF With S9","x":0.39,"p":0.941},{"series":"RF With S9","x":0.54,"p":0.93},{"series":"RF With S9","x":0.69,"p":0.95},{"series":"RF With S9","x":0.84,"p":0.959},
  {"series":"LR With S9","x":0.09,"p":0.86},{"series":"LR With S9","x":0.24,"p":0.959},{"series":"LR With S9","x":0.39,"p":0.98},{"series":"LR With S9","x":0.54,"p":0.995},{"series":"LR With S9","x":0.69,"p":0.972},{"series":"LR With S9","x":0.84,"p":0.998},
  {"series":"NN With S9","x":0.09,"p":0.997},{"series":"NN With S9","x":0.24,"p":1.0},{"series":"NN With S9","x":0.39,"p":1.0},{"series":"NN With S9","x":0.54,"p":1.0},{"series":"NN With S9","x":0.69,"p":1.0},{"series":"NN With S9","x":0.84,"p":1.0}
 ],
 "notes": [
  {"t":"ML Ensemble","c":"head","x":1.788,"p":0.1864},
  {"t":"-S9 = Clastogen","c":"minus","x":1.788,"p":0.127},
  {"t":"+S9 = Clastogen","c":"plus","x":1.788,"p":0.063}
 ],
 "uline": [{"x":1.033,"x2":1.788,"p":0.1795}]
},
"columns": 2,
"spacing": {"row": 125, "column": 211},
"bounds": "flush",
"concat": [
   {"width": 250, "height": 359, "title": {"text": "%RNC 24hr"}, "data": {"name": "rnc"},
    "encoding": {
     "x": {"field": "x", "type": "quantitative", "scale": {"domain": [-0.595, 1.855], "nice": false, "zero": false}, "axis": {"values": [-0.5,0,0.5,1,1.5], "labelExpr": "(datum.value < 0 ? '-' : '') + format(abs(datum.value), '.1f')", "title": "log10-Conc.µM"}},
     "y": {"field": "y", "type": "quantitative", "scale": {"domain": [1.282, 2.163], "nice": false, "zero": false}, "axis": {"values": [1.4,1.6,1.8,2.0], "labelExpr": "format(datum.value, '.1f')", "title": "log10-Percent.RNC.24hr"}}
    },
    "layer": [
     {"transform": [{"filter": "datum.k == 'ref'"}], "mark": {"type": "rule", "strokeDash": [9,4], "color": "#000", "strokeWidth": 1.1, "clip": true}, "encoding": {"x2": {"field": "x2"}, "y2": {"field": "y2"}}},
     {"transform": [{"filter": "datum.k == 'curve'"}], "mark": {"type": "line", "interpolate": "monotone", "strokeWidth": 1.3, "clip": true}, "encoding": {"detail": {"field": "seg"}, "color": {"field": "g", "type": "nominal", "scale": {"domain": ["S9","noS9"], "range": ["#000000","#ff0000"]}, "legend": null}, "strokeDash": {"field": "ls", "type": "nominal", "scale": {"domain": ["fit","extrap"], "range": [[1,0],[7,4]]}, "legend": null}}},
     {"transform": [{"filter": "datum.k == 'rep' || datum.k == 'mean'"}], "mark": {"type": "point", "filled": false, "strokeWidth": 1.2, "opacity": 1, "clip": true}, "encoding": {"shape": {"field": "g", "type": "nominal", "scale": {"domain": ["S9","noS9"], "range": ["triangle-up","M-0.85,-0.85L0.85,0.85M-0.85,0.85L0.85,-0.85"]}, "legend": null}, "size": {"field": "k", "type": "nominal", "scale": {"domain": ["rep","mean"], "range": [25,130]}, "legend": null}, "color": {"field": "g", "type": "nominal", "scale": {"domain": ["S9","noS9"], "range": ["#000000","#ff0000"]}, "legend": null}}}
    ]
   },
   {"width": 250, "height": 359, "title": {"text": "Clastogen Probability", "fontSize": 24, "offset": 7},
    "view": {"stroke": "#595959"},
    "encoding": {
     "x": {"field": "x", "type": "quantitative", "scale": {"domain": [-0.1, 1.9], "nice": false, "zero": false}, "axis": {"values": [-0.1,0.4,0.9,1.4,1.9], "labelExpr": "(datum.value < 0 ? '-' : '') + format(abs(datum.value), '.1f')", "labelFont": "Lato", "labelFontSize": 12, "labelColor": "#595959", "tickColor": "#595959", "tickSize": 5, "labelPadding": 17, "title": "log10-Conc.µM", "titleFont": "Lato", "titleFontSize": 17, "titleColor": "#595959", "titleY": 57.7}},
     "y": {"field": "p", "type": "quantitative", "scale": {"domain": [0, 1.063], "nice": false, "zero": false}, "axis": {"values": [0,0.1,0.2,0.3,0.4,0.5,0.6,0.7,0.8,0.9,1], "labelExpr": "datum.value == 0 ? '0' : datum.value == 1 ? '1' : format(datum.value, '.1f')", "labelAngle": 0, "labelAlign": "right", "labelBaseline": "middle", "labelPadding": 5.5, "labelFont": "Lato", "labelFontSize": 12, "labelColor": "#595959", "tickColor": "#595959", "tickSize": 5, "title": "Clastogen Probability", "titleFont": "Lato", "titleFontSize": 16.5, "titleColor": "#595959", "titleX": -51}}
    },
    "layer": [
     {"data": {"name": "clast"}, "transform": [{"filter": "indexof(datum.series, 'Without') >= 0"}], "mark": {"type": "line", "interpolate": "catmull-rom", "strokeWidth": 1.3, "color": "#ff0000"}, "encoding": {"detail": {"field": "series"}}},
     {"data": {"name": "clast"}, "transform": [{"filter": "indexof(datum.series, 'Without') < 0"}], "mark": {"type": "line", "interpolate": "catmull-rom", "strokeWidth": 1.3, "color": "#000000"}, "encoding": {"detail": {"field": "series"}}},
     {"data": {"name": "clast"}, "mark": {"type": "point", "size": 42, "strokeWidth": 1.1, "opacity": 1}, "encoding": {
       "shape": {"field": "series", "type": "nominal", "scale": {"domain": ["RF Without S9","LR Without S9","NN Without S9","RF With S9","LR With S9","NN With S9"], "range": ["M-0.8,-0.8L0.8,0.8M-0.8,0.8L0.8,-0.8","circle","M-1.2,-1.2L1.2,1.2M-1.2,1.2L1.2,-1.2M0,-1.4L0,1.4","diamond","triangle-up","triangle-up"]}, "legend": null},
       "stroke": {"field": "series", "type": "nominal", "scale": {"domain": ["RF Without S9","LR Without S9","NN Without S9","RF With S9","LR With S9","NN With S9"], "range": ["#ff0000","#ff0000","#ff0000","#000000","#000000","#000000"]}, "legend": null},
       "fill": {"field": "series", "type": "nominal", "scale": {"domain": ["RF Without S9","LR Without S9","NN Without S9","RF With S9","LR With S9","NN With S9"], "range": ["transparent","#ffffff","transparent","#ffffff","#ffffff","#000000"]}, "legend": null}}},
     {"data": {"name": "clast"}, "mark": {"type": "point", "size": 36, "strokeWidth": 1.3, "opacity": 0}, "encoding": {
       "shape": {"field": "series", "type": "nominal", "scale": {"domain": ["RF Without S9","LR Without S9","NN Without S9","RF With S9","LR With S9","NN With S9"], "range": ["M-3.5,0L3.5,0M-0.8,-0.8L0.8,0.8M-0.8,0.8L0.8,-0.8","M-3.5,0L-0.9,0M0.9,0L3.5,0M-0.9,0A0.9,0.9,0,1,1,0.9,0A0.9,0.9,0,1,1,-0.9,0Z","M-3.5,0L3.5,0M-1,-1L1,1M-1,1L1,-1M0,-1.2L0,1.2","M-3.5,0L-0.9,0M0.9,0L3.5,0M-0.9,0L0,-0.9L0.9,0L0,0.9Z","M-3.5,0L-0.53,0M0.53,0L3.5,0M0,-0.9L1,0.8L-1,0.8Z","M-3.5,0L3.5,0M0,-0.9L1,0.8L-1,0.8Z"]},
         "legend": {"title": null, "orient": "bottom-left", "offset": 5, "padding": 4, "strokeColor": "#d0d0d0", "fillColor": "#ffffff", "symbolSize": 36, "symbolOffset": 11, "labelOffset": 10, "labelFont": "Lato", "labelFontSize": 11, "labelColor": "#7f7f7f", "rowPadding": 2, "symbolStrokeWidth": 1.3, "symbolOpacity": 1}},
       "stroke": {"field": "series", "type": "nominal", "scale": {"domain": ["RF Without S9","LR Without S9","NN Without S9","RF With S9","LR With S9","NN With S9"], "range": ["#ff0000","#ff0000","#ff0000","#000000","#000000","#000000"]}, "legend": {"title": null, "orient": "bottom-left", "symbolOpacity": 1}},
       "fill": {"field": "series", "type": "nominal", "scale": {"domain": ["RF Without S9","LR Without S9","NN Without S9","RF With S9","LR With S9","NN With S9"], "range": ["transparent","#ffffff","transparent","#ffffff","#ffffff","#000000"]}, "legend": {"title": null, "orient": "bottom-left", "symbolOpacity": 1}}}},
     {"data": {"name": "notes"}, "transform": [{"filter": "datum.c != 'minus'"}], "mark": {"type": "text", "align": "right", "baseline": "alphabetic", "font": "Lato", "fontSize": 15.5, "color": "#000000"}, "encoding": {"text": {"field": "t"}}},
     {"data": {"name": "notes"}, "transform": [{"filter": "datum.c == 'minus'"}], "mark": {"type": "text", "align": "right", "baseline": "alphabetic", "font": "Lato", "fontSize": 15.5, "color": "#ff0000"}, "encoding": {"text": {"field": "t"}}},
     {"data": {"name": "uline"}, "mark": {"type": "rule", "color": "#000000", "strokeWidth": 1}, "encoding": {"x2": {"field": "x2"}}}
    ],
    "resolve": {"scale": {"shape": "independent", "stroke": "independent", "fill": "independent"}}
   },
   {"width": 250, "height": 359, "title": {"text": "p53 4hr"}, "data": {"name": "p53a"},
    "encoding": {
     "x": {"field": "x", "type": "quantitative", "scale": {"domain": [-0.595, 1.855], "nice": false, "zero": false}, "axis": {"values": [-0.5,0,0.5,1,1.5], "labelExpr": "(datum.value < 0 ? '-' : '') + format(abs(datum.value), '.1f')", "title": "log10-Conc.µM"}},
     "y": {"field": "y", "type": "quantitative", "scale": {"domain": [-0.0798, 0.1416], "nice": false, "zero": false}, "axis": {"values": [-0.05,0,0.05,0.1], "labelExpr": "(datum.value < 0 ? '-' : '') + format(abs(datum.value), '.2f')", "title": "log10-p53.4hr"}}
    },
    "layer": [
     {"transform": [{"filter": "datum.k == 'ref'"}], "mark": {"type": "rule", "strokeDash": [9,4], "color": "#000", "strokeWidth": 1.1, "clip": true}, "encoding": {"x2": {"field": "x2"}, "y2": {"field": "y2"}}},
     {"transform": [{"filter": "datum.k == 'curve'"}], "mark": {"type": "line", "interpolate": "monotone", "strokeWidth": 1.3, "clip": true}, "encoding": {"detail": {"field": "seg"}, "color": {"field": "g", "type": "nominal", "scale": {"domain": ["S9","noS9"], "range": ["#000000","#ff0000"]}, "legend": null}, "strokeDash": {"field": "ls", "type": "nominal", "scale": {"domain": ["fit","extrap"], "range": [[1,0],[7,4]]}, "legend": null}}},
     {"transform": [{"filter": "datum.k == 'rep' || datum.k == 'mean'"}], "mark": {"type": "point", "filled": false, "strokeWidth": 1.2, "opacity": 1, "clip": true}, "encoding": {"shape": {"field": "g", "type": "nominal", "scale": {"domain": ["S9","noS9"], "range": ["triangle-up","M-0.85,-0.85L0.85,0.85M-0.85,0.85L0.85,-0.85"]}, "legend": null}, "size": {"field": "k", "type": "nominal", "scale": {"domain": ["rep","mean"], "range": [25,130]}, "legend": null}, "color": {"field": "g", "type": "nominal", "scale": {"domain": ["S9","noS9"], "range": ["#000000","#ff0000"]}, "legend": null}}}
    ]
   },
   {"width": 250, "height": 359, "title": {"text": "p53 24hr"}, "data": {"name": "p53b"},
    "encoding": {
     "x": {"field": "x", "type": "quantitative", "scale": {"domain": [-0.595, 1.855], "nice": false, "zero": false}, "axis": {"values": [-0.5,0,0.5,1,1.5], "labelExpr": "(datum.value < 0 ? '-' : '') + format(abs(datum.value), '.1f')", "title": "log10-Conc.µM"}},
     "y": {"field": "y", "type": "quantitative", "scale": {"domain": [-0.0335, 0.3766], "nice": false, "zero": false}, "axis": {"values": [0,0.1,0.2,0.3], "labelExpr": "format(datum.value, '.1f')", "title": "log10-p53.24hr"}}
    },
    "layer": [
     {"transform": [{"filter": "datum.k == 'ref'"}], "mark": {"type": "rule", "strokeDash": [9,4], "color": "#000", "strokeWidth": 1.1, "clip": true}, "encoding": {"x2": {"field": "x2"}, "y2": {"field": "y2"}}},
     {"transform": [{"filter": "datum.k == 'curve'"}], "mark": {"type": "line", "interpolate": "monotone", "strokeWidth": 1.3, "clip": true}, "encoding": {"detail": {"field": "seg"}, "color": {"field": "g", "type": "nominal", "scale": {"domain": ["S9","noS9"], "range": ["#000000","#ff0000"]}, "legend": null}, "strokeDash": {"field": "ls", "type": "nominal", "scale": {"domain": ["fit","extrap"], "range": [[1,0],[7,4]]}, "legend": null}}},
     {"transform": [{"filter": "datum.k == 'rep' || datum.k == 'mean'"}], "mark": {"type": "point", "filled": false, "strokeWidth": 1.2, "opacity": 1, "clip": true}, "encoding": {"shape": {"field": "g", "type": "nominal", "scale": {"domain": ["S9","noS9"], "range": ["triangle-up","M-0.85,-0.85L0.85,0.85M-0.85,0.85L0.85,-0.85"]}, "legend": null}, "size": {"field": "k", "type": "nominal", "scale": {"domain": ["rep","mean"], "range": [25,130]}, "legend": null}, "color": {"field": "g", "type": "nominal", "scale": {"domain": ["S9","noS9"], "range": ["#000000","#ff0000"]}, "legend": null}}}
    ]
   },
  {"width": 250, "height": 359, "title": {"text": "γH2AX 4hr"}, "data": {"name": "gha"},
   "encoding": {
    "x": {"field": "x", "type": "quantitative", "scale": {"domain": [-0.595, 1.855], "nice": false, "zero": false}, "axis": {"values": [-0.5,0,0.5,1,1.5], "labelExpr": "(datum.value < 0 ? '-' : '') + format(abs(datum.value), '.1f')", "title": "log10-Conc.µM"}},
    "y": {"field": "y", "type": "quantitative", "scale": {"domain": [-0.0473, 0.478], "nice": false, "zero": false}, "axis": {"values": [0,0.1,0.2,0.3,0.4], "labelExpr": "format(datum.value, '.1f')", "title": "log10-gH2AX.4hr"}}
   },
   "layer": [
    {"transform": [{"filter": "datum.k == 'ref'"}], "mark": {"type": "rule", "strokeDash": [9,4], "color": "#000", "strokeWidth": 1.1, "clip": true}, "encoding": {"x2": {"field": "x2"}, "y2": {"field": "y2"}}},
    {"transform": [{"filter": "datum.k == 'curve'"}], "mark": {"type": "line", "interpolate": "monotone", "strokeWidth": 1.3, "clip": true}, "encoding": {"detail": {"field": "seg"}, "color": {"field": "g", "type": "nominal", "scale": {"domain": ["S9","noS9"], "range": ["#000000","#ff0000"]}, "legend": null}, "strokeDash": {"field": "ls", "type": "nominal", "scale": {"domain": ["fit","extrap"], "range": [[1,0],[7,4]]}, "legend": null}}},
    {"transform": [{"filter": "datum.k == 'rep' || datum.k == 'mean'"}], "mark": {"type": "point", "filled": false, "strokeWidth": 1.2, "opacity": 1, "clip": true}, "encoding": {"shape": {"field": "g", "type": "nominal", "scale": {"domain": ["S9","noS9"], "range": ["triangle-up","M-0.85,-0.85L0.85,0.85M-0.85,0.85L0.85,-0.85"]}, "legend": null}, "size": {"field": "k", "type": "nominal", "scale": {"domain": ["rep","mean"], "range": [25,130]}, "legend": null}, "color": {"field": "g", "type": "nominal", "scale": {"domain": ["S9","noS9"], "range": ["#000000","#ff0000"]}, "legend": null}}}
   ]
  },
  {"width": 250, "height": 359, "title": {"text": "γH2AX 24hr"}, "data": {"name": "ghb"},
   "encoding": {
    "x": {"field": "x", "type": "quantitative", "scale": {"domain": [-0.595, 1.855], "nice": false, "zero": false}, "axis": {"values": [-0.5,0,0.5,1,1.5], "labelExpr": "(datum.value < 0 ? '-' : '') + format(abs(datum.value), '.1f')", "title": "log10-Conc.µM"}},
    "y": {"field": "y", "type": "quantitative", "scale": {"domain": [-0.1495, 0.6215], "nice": false, "zero": false}, "axis": {"values": [-0.1,0,0.1,0.2,0.3,0.4,0.5,0.6], "labelExpr": "(datum.value < 0 ? '-' : '') + format(abs(datum.value), '.1f')", "title": "log10-gH2AX.24hr"}}
   },
   "layer": [
    {"transform": [{"filter": "datum.k == 'ref'"}], "mark": {"type": "rule", "strokeDash": [9,4], "color": "#000", "strokeWidth": 1.1, "clip": true}, "encoding": {"x2": {"field": "x2"}, "y2": {"field": "y2"}}},
    {"transform": [{"filter": "datum.k == 'curve'"}], "mark": {"type": "line", "interpolate": "monotone", "strokeWidth": 1.3, "clip": true}, "encoding": {"detail": {"field": "seg"}, "color": {"field": "g", "type": "nominal", "scale": {"domain": ["S9","noS9"], "range": ["#000000","#ff0000"]}, "legend": null}, "strokeDash": {"field": "ls", "type": "nominal", "scale": {"domain": ["fit","extrap"], "range": [[1,0],[7,4]]}, "legend": null}}},
    {"transform": [{"filter": "datum.k == 'rep' || datum.k == 'mean'"}], "mark": {"type": "point", "filled": false, "strokeWidth": 1.2, "opacity": 1, "clip": true}, "encoding": {"shape": {"field": "g", "type": "nominal", "scale": {"domain": ["S9","noS9"], "range": ["triangle-up","M-0.85,-0.85L0.85,0.85M-0.85,0.85L0.85,-0.85"]}, "legend": null}, "size": {"field": "k", "type": "nominal", "scale": {"domain": ["rep","mean"], "range": [25,130]}, "legend": null}, "color": {"field": "g", "type": "nominal", "scale": {"domain": ["S9","noS9"], "range": ["#000000","#ff0000"]}, "legend": null}}}
   ]
  }
]
}
